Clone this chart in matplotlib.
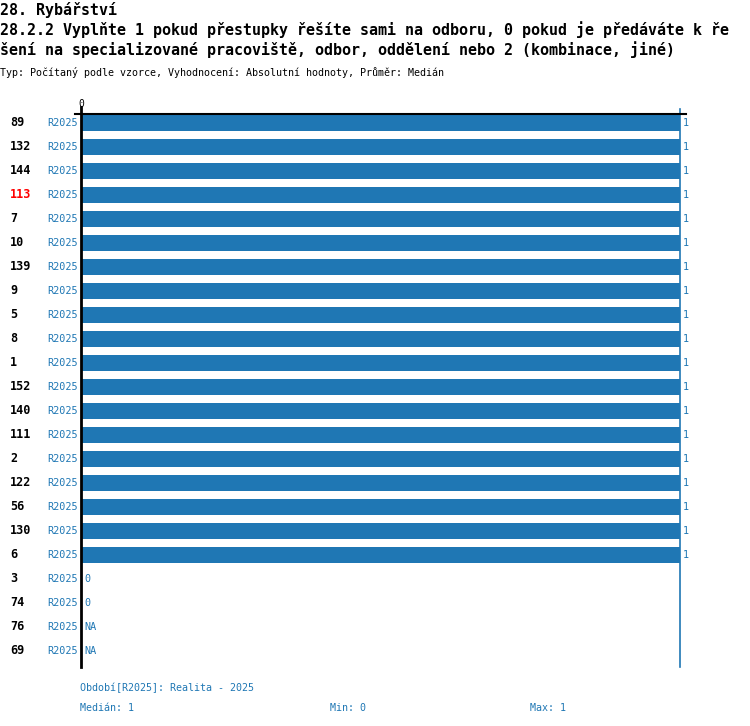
import numpy as np
import matplotlib
matplotlib.use("Agg")
import matplotlib.pyplot as plt
import matplotlib.transforms as mtransforms

# data
ids = ['89', '132', '144', '113', '7', '10', '139', '9', '5', '8', '1', '152',
       '140', '111', '2', '122', '56', '130', '6', '3', '74', '76', '69']
values = [1] * 19 + [0, 0, np.nan, np.nan]
period = 'R2025'
highlight = '113'
median_val = 1
min_val = 0
max_val = 1

title1 = '28. Rybářství'
title2 = '28.2.2 Vyplňte 1 pokud přestupky řešíte sami na odboru, 0 pokud je předáváte k ře'
title3 = 'šení na specializované pracoviště, odbor, oddělení nebo 2 (kombinace, jiné)'
subtitle = 'Typ: Počítaný podle vzorce, Vyhodnocení: Absolutní hodnoty, Průměr: Medián'

blue = '#1f77b4'
W, H = 750, 726
plt.rcParams['font.family'] = ['DejaVu Sans Mono']

fig = plt.figure(figsize=(W / 100, H / 100), dpi=100)
# axes: x 0..1 -> px 81..680, rows start at y=123 px, 24 px apart
top_px, bot_px = 114, 667
ax = fig.add_axes([81 / W, 1 - bot_px / H, 599 / W, (bot_px - top_px) / H])
n = len(ids)
ax.set_xlim(0, 1)
ax.set_ylim(n - 1 + (bot_px - 651) / 24, -(123 - top_px) / 24)
ax.axis('off')

y = np.arange(n)
vals = np.array(values, dtype=float)
ax.barh(y, np.nan_to_num(vals), height=0.68, color=blue, zorder=2)

# lines
ax.plot([-6 / 599, 605 / 599], [ax.get_ylim()[1]] * 2, color='black', lw=1.5,
        clip_on=False, zorder=3)
ax.axvline(0, ymin=0, ymax=(bot_px - 107) / (bot_px - top_px), color='black',
           lw=2, clip_on=False, zorder=3)
ax.axvline(median_val, ymin=0, ymax=(bot_px - 109) / (bot_px - top_px),
           color=blue, lw=1.2, clip_on=False, zorder=1)
ax.text(0, -(123 - 104) / 24, '0', ha='center', va='center', fontsize=7)

trans = mtransforms.blended_transform_factory(fig.transFigure, ax.transData)
for i, (k, v) in enumerate(zip(ids, values)):
    ax.text(10 / W, i, k, transform=trans, ha='left', va='center', fontsize=8.5,
            fontweight='bold', color='red' if k == highlight else 'black')
    ax.text(78 / W, i, period, transform=trans, ha='right', va='center',
            fontsize=7.3, color=blue)
    lab = 'NA' if np.isnan(v) else f'{v:g}'
    xv = 0 if np.isnan(v) else v
    ax.annotate(lab, (xv, i), xytext=(3, 0), textcoords='offset pixels',
                ha='left', va='center', fontsize=7.3, color=blue,
                annotation_clip=False)

# titles
fig.text(0, 1 - 10 / H, title1, ha='left', va='center', fontsize=10.8, fontweight='bold')
fig.text(0, 1 - 30 / H, title2, ha='left', va='center', fontsize=10.8, fontweight='bold')
fig.text(0, 1 - 50 / H, title3, ha='left', va='center', fontsize=10.8, fontweight='bold')
fig.text(0, 1 - 73 / H, subtitle, ha='left', va='center', fontsize=7.2)

# footer
fig.text(80 / W, 1 - 688 / H, f'Období[{period}]: Realita - 2025', ha='left',
         va='center', fontsize=7.2, color=blue)
fig.text(80 / W, 1 - 708 / H, f'Medián: {median_val}', ha='left', va='center',
         fontsize=7.2, color=blue)
fig.text(330 / W, 1 - 708 / H, f'Min: {min_val}', ha='left', va='center',
         fontsize=7.2, color=blue)
fig.text(530 / W, 1 - 708 / H, f'Max: {max_val}', ha='left', va='center',
         fontsize=7.2, color=blue)

fig.savefig('out.png', dpi=100)
